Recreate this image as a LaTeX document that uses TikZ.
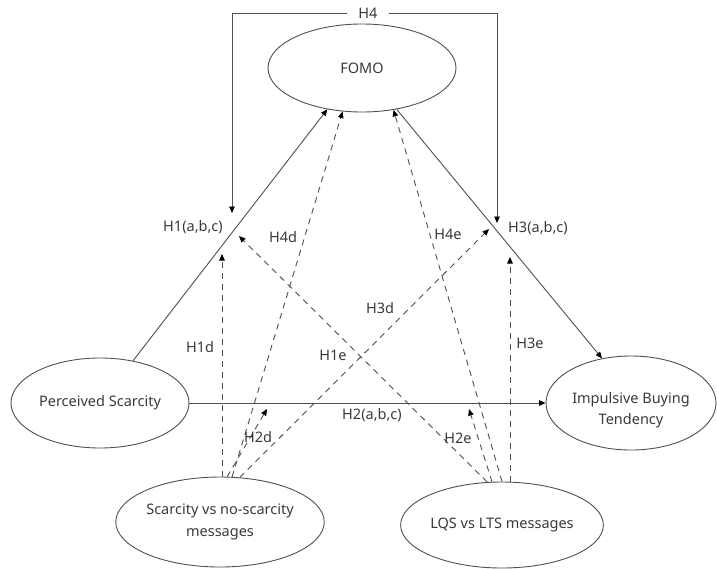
\documentclass[tikz,border=0pt]{standalone}
\usepackage{fontspec}
\setmainfont{Noto Sans}
\usetikzlibrary{arrows.meta,shapes.geometric}
\definecolor{ln}{HTML}{505050}
\definecolor{tx}{HTML}{3A3A3A}
\begin{document}
\begin{tikzpicture}[x=1pt,y=-1pt,
  every node/.style={text=tx, font=\fontsize{14.5}{22}\selectfont},
  construct/.style={ellipse, draw=ln, line width=0.9pt, inner sep=0pt, align=center},
  solidarrow/.style={draw=ln, line width=0.9pt, -{Triangle[length=6.5pt,width=5.5pt,color=black]}},
  dasharrow/.style={solidarrow, dash pattern=on 6pt off 5pt},
  lab/.style={inner sep=1pt}]
\useasboundingbox (0,0) rectangle (717,568);
\fill[white] (0,0) rectangle (717,568);

% constructs
\node[construct, minimum width=188pt, minimum height=88pt] (fomo) at (362,68) {FOMO};
\node[construct, minimum width=178pt, minimum height=90pt] (ps) at (100,403) {Perceived Scarcity};
\node[construct, minimum width=170pt, minimum height=94pt] (ibt) at (631,403)
  {\raisebox{-10pt}[0pt][0pt]{\begin{tabular}{@{}c@{}}Impulsive Buying\\[-1pt]Tendency\end{tabular}}};
\node[construct, minimum width=178pt, minimum height=90pt] (sm) at (220,522) {Scarcity vs no-scarcity\\messages};
\node[construct, minimum width=176pt, minimum height=86pt] (lq) at (502,525) {LQS vs LTS messages};

% free ends
\coordinate (h4l) at (232,213);
\coordinate (h4r) at (497,223);
\coordinate (t1d) at (222,254);
\coordinate (t2d) at (267,409);
\coordinate (t3d) at (489,229);
\coordinate (t1e) at (239,236);
\coordinate (t2e) at (469,409);
\coordinate (t3e) at (510,257);

% H4 bracket
\node[lab, inner xsep=11pt, fill=white] (h4) at (368,13) {H4};
\draw[solidarrow] (h4.west) -| (h4l);
\draw[solidarrow] (h4.east) -| (h4r);

% solid paths
\draw[solidarrow] (ps.52.5) -- (fomo.230);
\draw[solidarrow] (fomo.310) -- (ibt.123.4);
\draw[solidarrow] (ps.east) -- (ibt.west);

% dashed paths from scarcity messages
\draw[dasharrow] (sm.north -| t1d) -- (t1d);
\draw[dasharrow] (sm.81) -- (t2d);
\draw[dasharrow] (sm.75) -- (fomo.246);
\draw[dasharrow] (sm.66) -- (t3d);

% dashed paths from LQS/LTS messages
\draw[dasharrow] (lq.109) -- (t1e);
\draw[dasharrow] (lq.103) -- (t2e);
\draw[dasharrow] (lq.90) -- (fomo.307);
\draw[dasharrow] (lq.north -| t3e) -- (t3e);

% labels
\node[lab] (l1) at (193,227) {H1(a,b,c)};
\node[lab] (l3) at (538,228) {H3(a,b,c)};
\node[lab] (l2) at (372,415) {H2(a,b,c)};
\node[lab] (l4d) at (283,237) {H4d};
\node[lab] (l4e) at (448,234) {H4e};
\node[lab] (l1d) at (200,347) {H1d};
\node[lab] (l3d) at (380,308) {H3d};
\node[lab] (l1e) at (333,355) {H1e};
\node[lab] (l3e) at (530,343) {H3e};
\node[lab] (l2d) at (258,437) {H2d};
\node[lab] (l2e) at (458,438) {H2e};
\end{tikzpicture}
\end{document}
